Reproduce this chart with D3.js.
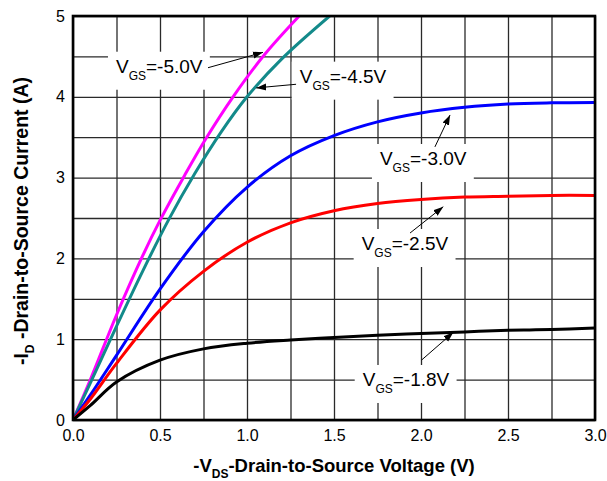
<!DOCTYPE html>
<html><head><meta charset="utf-8">
<script src="https://cdn.jsdelivr.net/npm/d3@7"></script>
<style>
html,body{margin:0;padding:0;background:#fff;}
svg text{font-family:Arial,"Liberation Sans",sans-serif;}
</style></head>
<body><svg id="c" width="607" height="481"></svg>
<script>
// ---- data ----
const vgsLabels = ["-5.0V","-4.5V","-3.0V","-2.5V","-1.8V"];
const seriesColors = ["#ff00ff","#138a8a","#0000ff","#ff0000","#000000"];
const vds50 = [0,0.1,0.25,0.4,0.5,0.642,0.766,0.92,1.1,1.30];
const id50  = [0,0.50,1.30,2.03,2.47,3.03,3.49,4.0,4.52,5.0];
const vds45 = [0,0.1,0.25,0.4,0.55,0.7,0.85,1.0,1.2,1.475];
const id45  = [0,0.46,1.16,1.84,2.48,3.05,3.56,4.0,4.47,5.0];
const vds30 = [0,0.1,0.25,0.5,0.75,1.0,1.25,1.5,1.75,2.0,2.25,2.5,2.75,3.0];
const id30  = [0,0.31,0.80,1.62,2.33,2.88,3.27,3.52,3.69,3.80,3.87,3.91,3.925,3.93];
const vds25 = [0,0.1,0.25,0.5,0.75,1.0,1.25,1.5,1.75,2.0,2.25,2.5,2.75,3.0];
const id25  = [0,0.26,0.70,1.36,1.84,2.20,2.44,2.59,2.68,2.73,2.76,2.77,2.78,2.78];
const vds18 = [0,0.1,0.25,0.5,0.75,1.0,1.25,1.5,1.75,2.0,2.25,2.5,2.75,3.0];
const id18  = [0,0.18,0.47,0.74,0.88,0.95,0.99,1.02,1.05,1.07,1.09,1.11,1.12,1.14];
const xTickLabels = ["0.0","0.5","1.0","1.5","2.0","2.5","3.0"];
const yTickLabels = ["0","1","2","3","4","5"];
// annotations: label start (V,A), arrow tail (V,A), arrow head (V,A)
const annStart = [[0.247,4.298],[1.303,4.175],[1.764,3.156],[1.659,2.104],[1.665,0.421]];
const annTail  = [[0.776,4.36],[1.282,4.155],[2.08,3.38],[1.937,2.314],[2.004,0.743]];
const annHead  = [[1.092,4.55],[1.053,4.11],[2.167,3.775],[2.128,2.64],[2.186,1.085]];

const series = [[vds50,id50],[vds45,id45],[vds30,id30],[vds25,id25],[vds18,id18]];

// ---- layout ----
const L=73,R=595,T=16,B=420;
const x = d3.scaleLinear().domain([0,3]).range([L,R]);
const y = d3.scaleLinear().domain([0,5]).range([B,T]);
const svg = d3.select("#c");

// grid
const gx = d3.range(0,3.0001,0.25), gy = d3.range(0,5.0001,0.5);
svg.append("g").attr("transform",`translate(0,${B})`)
  .call(d3.axisBottom(x).tickValues(gx).tickSize(-(B-T)).tickFormat(""))
  .call(g=>g.select(".domain").remove())
  .call(g=>g.selectAll("line").attr("stroke","#2a2a2a").attr("stroke-width",1.3));
svg.append("g").attr("transform",`translate(${L},0)`)
  .call(d3.axisLeft(y).tickValues(gy).tickSize(-(R-L)).tickFormat(""))
  .call(g=>g.select(".domain").remove())
  .call(g=>g.selectAll("line").attr("stroke","#2a2a2a").attr("stroke-width",1.3));

// tick labels
svg.append("g").attr("transform",`translate(0,${B})`)
  .call(d3.axisBottom(x).tickValues(xTickLabels.map(Number)).tickSize(0).tickPadding(21).tickFormat((d,i)=>xTickLabels[i]))
  .call(g=>g.select(".domain").remove())
  .call(g=>g.selectAll("text").attr("font-size",16).attr("fill","#000").attr("font-family",'Arial,"Liberation Sans",sans-serif').attr("dy","0"));
svg.append("g").attr("transform",`translate(${L},0)`)
  .call(d3.axisLeft(y).tickValues(yTickLabels.map(Number)).tickSize(0).tickPadding(8).tickFormat((d,i)=>yTickLabels[i]))
  .call(g=>g.select(".domain").remove())
  .call(g=>g.selectAll("text").attr("font-size",16).attr("fill","#000").attr("font-family",'Arial,"Liberation Sans",sans-serif'));

// label boxes + text
const labG = svg.append("g");
const labs = vgsLabels.map((lab,i)=>{
  const t = labG.append("text").attr("x",x(annStart[i][0])).attr("y",y(annStart[i][1]))
    .attr("font-size",19).attr("fill","#000");
  t.append("tspan").text("V");
  t.append("tspan").text("GS").attr("font-size",12).attr("dy",7);
  t.append("tspan").text("="+lab).attr("dy",-7);
  return t;
});
labs.forEach((t,i)=>{
  const bb = t.node().getBBox();
  labG.insert("rect","text").attr("x",bb.x-8).attr("width",bb.width+15)
    .attr("y",y(annStart[i][1])-21).attr("height",38).attr("fill","#fff");
});

// curves
svg.append("clipPath").attr("id","clp").append("rect").attr("x",L).attr("y",T).attr("width",R-L).attr("height",B-T);
const line = d3.line().x(d=>x(d[0])).y(d=>y(d[1])).curve(d3.curveCatmullRom.alpha(0.5));
series.forEach((s,i)=>{
  const pts = s[0].map((v,j)=>[v,s[1][j]]);
  svg.append("path").attr("d",line(pts)).attr("fill","none").attr("stroke",seriesColors[i])
    .attr("stroke-width",3).attr("clip-path","url(#clp)").attr("stroke-linejoin","round");
});

// arrows
svg.append("defs").append("marker").attr("id","ah").attr("viewBox","0 0 10 10").attr("refX",10).attr("refY",5)
  .attr("markerWidth",10).attr("markerHeight",10).attr("markerUnits","userSpaceOnUse").attr("orient","auto")
  .append("path").attr("d","M0,1.5 L10,5 L0,8.5 Z").attr("fill","#000");
annTail.forEach((tl,i)=>{
  svg.append("line").attr("x1",x(tl[0])).attr("y1",y(tl[1])).attr("x2",x(annHead[i][0])).attr("y2",y(annHead[i][1]))
    .attr("stroke","#000").attr("stroke-width",1).attr("marker-end","url(#ah)");
});

// frame
svg.append("rect").attr("x",L).attr("y",T).attr("width",R-L).attr("height",B-T)
  .attr("fill","none").attr("stroke","#000").attr("stroke-width",2.6);

// axis titles
const xt = svg.append("text").attr("x",334).attr("y",472).attr("text-anchor","middle")
  .attr("font-size",18.5).attr("font-weight","bold");
xt.append("tspan").text("-V");
xt.append("tspan").text("DS").attr("font-size",12).attr("dy",6);
xt.append("tspan").text("-Drain-to-Source Voltage (V)").attr("dy",-6);

const yt = svg.append("text").attr("transform",`translate(28,${221}) rotate(-90)`).attr("text-anchor","middle")
  .attr("font-size",19.5).attr("font-weight","bold");
yt.append("tspan").text("-I");
yt.append("tspan").text("D").attr("font-size",12).attr("dy",6);
yt.append("tspan").text(" -Drain-to-Source Current (A)").attr("dy",-6);
</script></body></html>
